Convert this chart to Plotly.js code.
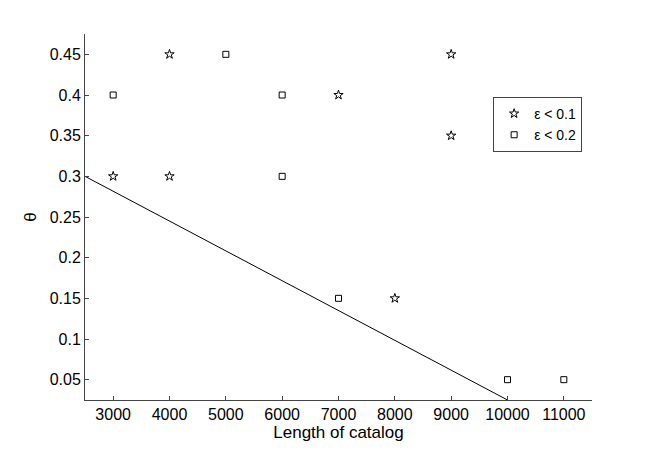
<!DOCTYPE html>
<html>
<head>
<meta charset="utf-8">
<script src="https://cdn.plot.ly/plotly-3.0.1.min.js"></script>
<style>
  html, body { margin: 0; padding: 0; background: #fff; }
  #chart { width: 654px; height: 450px; }
</style>
</head>
<body>
<div id="chart"></div>
<script>
// ===================== DATA =====================
// points with error below 0.1 (stars)
const starX = [3000, 4000, 4000, 7000, 8000, 9000, 9000];
const starY = [0.3, 0.45, 0.3, 0.4, 0.15, 0.45, 0.35];

// points with error below 0.2 (squares)
const squareX = [3000, 5000, 6000, 6000, 7000, 10000, 11000];
const squareY = [0.4, 0.45, 0.4, 0.3, 0.15, 0.05, 0.05];

// boundary line
const lineX = [2500, 10000];
const lineY = [0.3, 0.025];

const xTicks = [3000, 4000, 5000, 6000, 7000, 8000, 9000, 10000, 11000];
const yTicks = [0.05, 0.1, 0.15, 0.2, 0.25, 0.3, 0.35, 0.4, 0.45];

// ===================== TRACES =====================
const starTrace = {
    x: starX, y: starY,
    type: 'scatter', mode: 'markers',
    name: 'ε < 0.1',
    marker: { symbol: 'star-open', size: 7, color: '#000', line: { width: 1 } }
};

const squareTrace = {
    x: squareX, y: squareY,
    type: 'scatter', mode: 'markers',
    name: 'ε < 0.2',
    marker: { symbol: 'square-open', size: 6, color: '#000', line: { width: 1 } }
};

const lineTrace = {
    x: lineX, y: lineY,
    type: 'scatter', mode: 'lines',
    showlegend: false,
    line: { color: '#000', width: 1 }
};

// ===================== LAYOUT =====================
const axisCommon = {
    showgrid: false,
    zeroline: false,
    showline: true,
    linecolor: '#444',
    linewidth: 1,
    ticks: 'inside',
    ticklen: 4,
    tickcolor: '#444',
    tickfont: { size: 16, color: '#000' },
    mirror: false
};

const layout = {
    width: 654,
    height: 450,
    margin: { l: 85, r: 62, t: 34, b: 50 },
    font: { family: 'Liberation Sans, Arial, sans-serif', size: 16, color: '#000' },
    paper_bgcolor: '#fff',
    plot_bgcolor: '#fff',
    xaxis: Object.assign({}, axisCommon, {
        range: [2500, 11500],
        tickvals: xTicks,
        ticktext: xTicks.map(String),
        title: { text: 'Length of catalog', font: { size: 17 }, standoff: 0 }
    }),
    yaxis: Object.assign({}, axisCommon, {
        range: [0.025, 0.475],
        tickvals: yTicks,
        ticktext: yTicks.map(String),
        title: { text: 'θ', font: { size: 17 }, standoff: 8 }
    }),
    legend: {
        x: 0.805, y: 0.828,
        xanchor: 'left', yanchor: 'top',
        bgcolor: '#fff',
        bordercolor: '#444',
        borderwidth: 1,
        font: { size: 14 },
        itemwidth: 30,
        tracegroupgap: 0
    },
    showlegend: true
};

Plotly.newPlot('chart', [lineTrace, starTrace, squareTrace], layout, { displayModeBar: false, staticPlot: true });
</script>
</body>
</html>
